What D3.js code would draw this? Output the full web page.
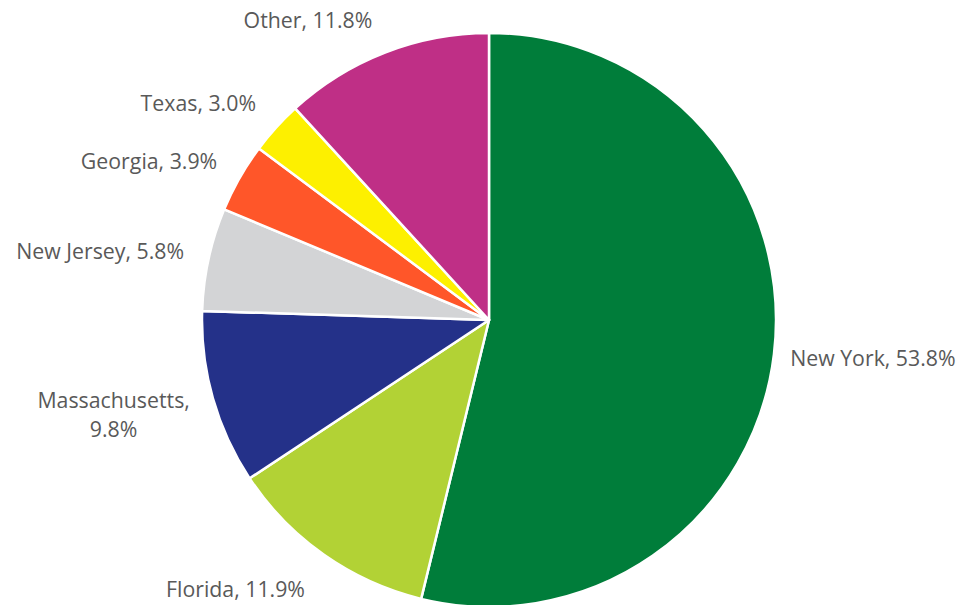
<!DOCTYPE html>
<html>
<head>
<meta charset="utf-8">
<script src="https://cdn.jsdelivr.net/npm/d3@7.9.0/dist/d3.min.js"></script>
<style>
  body { margin: 0; background: #fff; }
  svg { display: block; }
  .label { font-family: "Open Sans", sans-serif; font-size: 21.3px; fill: #595959; }
</style>
</head>
<body>
<div id="chart"></div>
<script>
const states = ['New York', 'Florida', 'Massachusetts', 'New Jersey', 'Georgia', 'Texas', 'Other'];
const shares = [53.8, 11.9, 9.8, 5.8, 3.9, 3.0, 11.8];
const colors = ['#007d3a', '#b2d235', '#243189', '#d3d4d6', '#ff5629', '#fdf000', '#bf2f86'];

const width = 972;
const height = 605;
const cx = 489, cy = 320, radius = 287;
const labelR = 314;

// Excel's label placement drifts a bit from a plain circle, mimic that
const nudge = {
  'New York': [-10, -2],
  'Texas': [-15, 3],
  'Georgia': [-8, 3],
  'Other': [-44, 6],
  'Florida': [-33, 0]
};

const data = states.map((s, i) => ({ name: s, value: shares[i], color: colors[i] }));

const svg = d3.select('#chart')
  .append('svg')
  .attr('width', width)
  .attr('height', height);

const pie = d3.pie().sort(null).value(d => d.value);
const arc = d3.arc().innerRadius(0).outerRadius(radius);

const g = svg.append('g').attr('transform', `translate(${cx},${cy})`);
const arcs = pie(data);

g.selectAll('path')
  .data(arcs)
  .join('path')
  .attr('d', arc)
  .attr('fill', d => d.data.color)
  .attr('stroke', '#fff')
  .attr('stroke-width', 2.5)
  .attr('stroke-linejoin', 'round');

const labels = g.selectAll('text')
  .data(arcs)
  .join('text')
  .attr('class', 'label')
  .attr('text-anchor', 'middle');

labels.each(function (d) {
  const t = d3.select(this);
  const pct = d.data.value.toFixed(1) + '%';
  const lines = d.data.name.length > 12 ? [d.data.name + ',', pct] : [d.data.name + ', ' + pct];
  lines.forEach((l, i) => {
    t.append('tspan').attr('x', 0).attr('dy', i === 0 ? 0 : '1.37em').text(l);
  });
  const box = this.getBBox();
  const mid = (d.startAngle + d.endAngle) / 2;
  const sx = Math.sin(mid), cyv = -Math.cos(mid);
  const [nx, ny] = nudge[d.data.name] || [0, 0];
  const px = sx * labelR + sx * box.width / 2 + nx;
  const py = cyv * labelR + cyv * box.height / 2 + ny;
  // shift so the box centre lands on (px, py)
  const bcx = box.x + box.width / 2, bcy = box.y + box.height / 2;
  t.attr('transform', `translate(${px - bcx},${py - bcy})`);
});
</script>
</body>
</html>
